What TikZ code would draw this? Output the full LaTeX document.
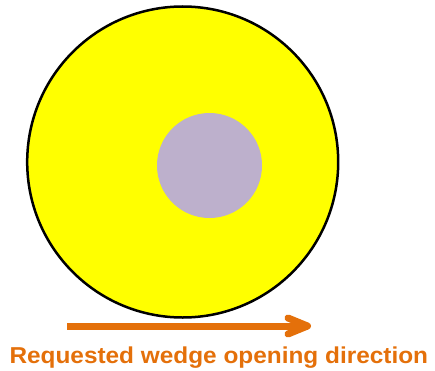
\documentclass[tikz,border=0pt]{standalone}
\usepackage{fontspec}
\setmainfont{Liberation Sans}
\definecolor{wyellow}{RGB}{255,255,0}
\definecolor{wlav}{RGB}{189,176,204}
\definecolor{worange}{RGB}{228,112,10}
\begin{document}
\begin{tikzpicture}[x=1pt,y=1pt,
  disk/.style={circle,inner sep=0pt,outer sep=0pt},
  arrowline/.style={draw=worange,line width=7pt}]
\useasboundingbox (0,0) rectangle (435,370);
\node[disk,fill=wyellow,draw=black,line width=2.5pt,minimum size=311pt] (outer) at (182.7,208) {};
\node[disk,fill=wlav,minimum size=105pt] (inner) at (209.5,204.5) {};
\coordinate (a0) at (67,44);
\coordinate (a1) at (307.5,44);
\coordinate (h1) at (288,52);
\coordinate (h2) at (288,36);
\draw[arrowline,line cap=butt] (a0) -- (a1);
\draw[arrowline,line cap=round,line join=round] (h1) -- (a1) -- (h2);
\node[anchor=base west,inner sep=0pt,text=worange,font=\bfseries\fontsize{23}{27}\selectfont] (lbl) at (9.3,7) {\scalebox{1.06}[1]{Requested wedge opening direction}};
\end{tikzpicture}
\end{document}
